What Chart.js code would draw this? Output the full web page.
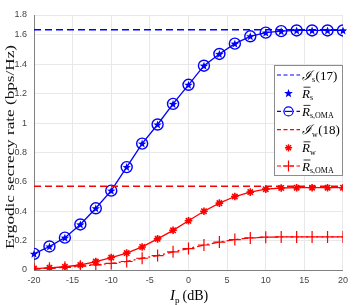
<!DOCTYPE html>
<html>
<head>
<meta charset="utf-8">
<script src="https://cdn.jsdelivr.net/npm/chart.js@4.4.1/dist/chart.umd.min.js"></script>
<style>
  html, body { margin: 0; padding: 0; background: #fff; }
  #wrap { width: 353px; height: 305px; }
</style>
</head>
<body>
<div id="wrap"><canvas id="rateChart" width="353" height="305"></canvas></div>
<script>
const powerDb = [-20, -18, -16, -14, -12, -10, -8, -6, -4, -2, 0, 2, 4, 6, 8, 10, 12, 14, 16, 18, 20];

const rateS = [0.11, 0.16, 0.22, 0.31, 0.42, 0.54, 0.70, 0.86, 0.99, 1.13, 1.26, 1.39, 1.47, 1.54, 1.59, 1.615, 1.625, 1.63, 1.63, 1.63, 1.63];
const rateSOma = [0.11, 0.16, 0.22, 0.31, 0.42, 0.54, 0.70, 0.86, 0.99, 1.13, 1.26, 1.39, 1.47, 1.54, 1.59, 1.615, 1.625, 1.63, 1.63, 1.63, 1.63];
const rateW = [0.01, 0.015, 0.022, 0.034, 0.057, 0.085, 0.115, 0.157, 0.212, 0.27, 0.335, 0.40, 0.455, 0.50, 0.53, 0.55, 0.558, 0.56, 0.56, 0.56, 0.56];
const rateWOma = [0.008, 0.012, 0.018, 0.026, 0.035, 0.045, 0.058, 0.08, 0.098, 0.124, 0.146, 0.17, 0.19, 0.207, 0.218, 0.223, 0.225, 0.225, 0.225, 0.225, 0.225];

const boundS = 1.635; // I_s (17)
const boundW = 0.57;  // I_w (18)

const xTicks = [-20, -15, -10, -5, 0, 5, 10, 15, 20];
const yTicks = [0, 0.2, 0.4, 0.6, 0.8, 1, 1.2, 1.4, 1.6, 1.8];
// in the picture the top "1.8" tick sits closer to 1.6 than the others,
// so the axis top is placed where the picture puts it
const Y_TOP = 1.735;

const BLUE = "#0000ff";
const RED = "#ff0000";
const SERIF = "'Liberation Serif', 'DejaVu Serif', serif";

function pts(ys) {
  return powerDb.map((x, i) => ({ x, y: ys[i] }));
}

function drawStar5(ctx, x, y, r) {
  ctx.beginPath();
  for (let i = 0; i < 10; i++) {
    const rr = i % 2 === 0 ? r : r * 0.42;
    const a = -Math.PI / 2 + (i * Math.PI) / 5;
    const px = x + rr * Math.cos(a);
    const py = y + rr * Math.sin(a);
    if (i === 0) ctx.moveTo(px, py);
    else ctx.lineTo(px, py);
  }
  ctx.closePath();
  ctx.fill();
}

function drawAsterisk(ctx, x, y, r) {
  ctx.beginPath();
  for (let i = 0; i < 4; i++) {
    const a = (i * Math.PI) / 4;
    ctx.moveTo(x - r * Math.cos(a), y - r * Math.sin(a));
    ctx.lineTo(x + r * Math.cos(a), y + r * Math.sin(a));
  }
  ctx.stroke();
}

function drawPlus(ctx, x, y, r) {
  ctx.beginPath();
  ctx.moveTo(x - r, y);
  ctx.lineTo(x + r, y);
  ctx.moveTo(x, y - r);
  ctx.lineTo(x, y + r);
  ctx.stroke();
}

// text with subscript, optional bar over the main letter
function drawMath(ctx, x, y, main, sub, tail, opts = {}) {
  ctx.textBaseline = "alphabetic";
  ctx.textAlign = "left";
  ctx.font = "italic 13px " + SERIF;
  ctx.fillText(main, x, y);
  const w = ctx.measureText(main).width;
  if (opts.bar) {
    ctx.beginPath();
    ctx.lineWidth = 0.8;
    ctx.moveTo(x + 1.5, y - 10.5);
    ctx.lineTo(x + w + 0.5, y - 10.5);
    ctx.stroke();
  }
  let cx = x + w;
  ctx.font = "8px " + SERIF;
  ctx.fillText(sub, cx, y + 2.5);
  cx += ctx.measureText(sub).width;
  if (tail) {
    ctx.font = "13px " + SERIF;
    ctx.fillText(tail, cx + 0.5, y);
  }
}

const legendItems = [
  { color: BLUE, dash: [4, 2.5], marker: null, main: "\u2110", sub: "s", tail: "(17)", bar: false },
  { color: BLUE, dash: null, marker: "star5", main: "R", sub: "s", tail: "", bar: true },
  { color: BLUE, dash: [4, 2.5], marker: "circle", main: "R", sub: "s,OMA", tail: "", bar: true },
  { color: RED, dash: [4, 2.5], marker: null, main: "\u2110", sub: "w", tail: "(18)", bar: false },
  { color: RED, dash: null, marker: "asterisk", main: "R", sub: "w", tail: "", bar: true },
  { color: RED, dash: [4, 2.5], marker: "plus", main: "R", sub: "s,OMA", tail: "", bar: true },
];

// filled five-point stars for R_s, placed at the points the library laid out
const starPlugin = {
  id: "starMarks",
  afterDatasetsDraw(chart) {
    const idx = chart.data.datasets.findIndex((d) => d.label === "Rs");
    const meta = chart.getDatasetMeta(idx);
    const ctx = chart.ctx;
    ctx.save();
    ctx.fillStyle = BLUE;
    meta.data.forEach((p) => drawStar5(ctx, p.x, p.y + 0.4, 4.4));
    ctx.restore();
  },
};

const legendPlugin = {
  id: "boxLegend",
  afterDraw(chart) {
    const ctx = chart.ctx;
    const bx = 274.5, by = 65.5, bw = 68, bh = 110;
    ctx.save();
    ctx.fillStyle = "#fff";
    ctx.fillRect(bx, by, bw, bh);
    ctx.strokeStyle = "#8c8c8c";
    ctx.lineWidth = 1;
    ctx.strokeRect(bx, by, bw, bh);

    legendItems.forEach((it, i) => {
      const cy = by + 9.5 + i * 18.2;
      ctx.strokeStyle = it.color;
      ctx.fillStyle = it.color;
      if (it.dash) {
        ctx.setLineDash(it.dash);
        ctx.lineWidth = 1.2;
        ctx.beginPath();
        ctx.moveTo(277, cy);
        ctx.lineTo(300, cy);
        ctx.stroke();
        ctx.setLineDash([]);
      }
      if (it.marker === "star5") drawStar5(ctx, 288.5, cy + 0.3, 4.6);
      if (it.marker === "circle") {
        ctx.lineWidth = 1.2;
        ctx.beginPath();
        ctx.arc(288.5, cy, 4.5, 0, Math.PI * 2);
        ctx.fillStyle = "#fff";
        ctx.fill();
        ctx.stroke();
        ctx.beginPath();
        ctx.moveTo(285, cy);
        ctx.lineTo(292, cy);
        ctx.stroke();
      }
      if (it.marker === "asterisk") {
        ctx.lineWidth = 1.4;
        drawAsterisk(ctx, 288.5, cy, 3.6);
      }
      if (it.marker === "plus") {
        ctx.lineWidth = 1.2;
        drawPlus(ctx, 288.5, cy, 5.5);
      }
      ctx.fillStyle = "#000";
      ctx.strokeStyle = "#000";
      drawMath(ctx, 302, cy + 4.5, it.main, it.sub, it.tail, { bar: it.bar });
    });

    // x axis title: I_p (dB)
    ctx.fillStyle = "#000";
    ctx.font = "italic 15px " + SERIF;
    const xt = 170, yt = 300;
    ctx.textBaseline = "alphabetic";
    ctx.textAlign = "left";
    ctx.fillText("I", xt, yt);
    let cx = xt + ctx.measureText("I").width;
    ctx.font = "9px " + SERIF;
    ctx.fillText("p", cx, yt + 3);
    cx += ctx.measureText("p").width + 3;
    ctx.font = "14px " + SERIF;
    ctx.fillText("(dB)", cx, yt);

    // y axis title, stretched along its length like the picture
    ctx.translate(11, 147);
    ctx.rotate(-Math.PI / 2);
    ctx.scale(1.32, 1);
    ctx.textAlign = "center";
    ctx.textBaseline = "middle";
    ctx.font = "13px " + SERIF;
    ctx.fillStyle = "#111";
    ctx.fillText("Ergodic secrecy rate (bps/Hz)", 0, 0);
    ctx.restore();
  },
};

const ctx = document.getElementById("rateChart");

new Chart(ctx, {
  type: "line",
  data: {
    datasets: [
      {
        label: "Is",
        data: [{ x: -20, y: boundS }, { x: 20, y: boundS }],
        borderColor: BLUE,
        borderWidth: 1.6,
        borderDash: [7, 4],
        pointRadius: 0,
      },
      {
        label: "Iw",
        data: [{ x: -20, y: boundW }, { x: 20, y: boundW }],
        borderColor: RED,
        borderWidth: 1.6,
        borderDash: [7, 4],
        pointRadius: 0,
      },
      {
        label: "Rs,OMA",
        data: pts(rateSOma),
        borderColor: BLUE,
        borderWidth: 1.3,
        pointStyle: "circle",
        pointRadius: 5.5,
        pointBorderWidth: 1.4,
        pointBorderColor: BLUE,
        pointBackgroundColor: "rgba(0,0,0,0)",
      },
      {
        label: "Rs",
        data: pts(rateS),
        showLine: false,
        pointRadius: 0,
        borderColor: BLUE,
      },
      {
        label: "Rw",
        data: pts(rateW),
        borderColor: RED,
        borderWidth: 1.3,
        pointStyle: "star",
        pointRadius: 3.8,
        pointBorderWidth: 1.6,
        pointBorderColor: RED,
      },
      {
        label: "Rw,OMA",
        data: pts(rateWOma),
        borderColor: RED,
        borderWidth: 1.3,
        borderDash: [7, 3, 2, 3],
        pointStyle: "cross",
        pointRadius: 6,
        pointBorderWidth: 1.2,
        pointBorderColor: RED,
      },
    ],
  },
  options: {
    responsive: false,
    animation: false,
    layout: { padding: { top: 15, right: 6, left: 0, bottom: 0 } },
    plugins: { legend: { display: false }, tooltip: { enabled: false } },
    scales: {
      x: {
        type: "linear",
        min: -20,
        max: 20,
        afterBuildTicks: (scale) => {
          scale.ticks = xTicks.map((v) => ({ value: v }));
        },
        afterFit: (scale) => {
          scale.height = 35;
        },
        grid: { color: "#e8e8e8", drawTicks: false },
        border: { color: "#808080", width: 1 },
        ticks: {
          padding: 5,
          color: "#444",
          font: { family: "'Liberation Sans', Arial, sans-serif", size: 9 },
        },
      },
      y: {
        type: "linear",
        min: 0,
        max: Y_TOP,
        afterBuildTicks: (scale) => {
          scale.ticks = yTicks.map((v) => ({ value: v === 1.8 ? Y_TOP : v }));
        },
        afterFit: (scale) => {
          scale.width = 34;
        },
        grid: { color: "#e8e8e8", drawTicks: false },
        border: { color: "#808080", width: 1 },
        ticks: {
          padding: 7,
          color: "#444",
          font: { family: "'Liberation Sans', Arial, sans-serif", size: 9 },
          callback: (v) => (v === Y_TOP ? "1.8" : String(+Number(v).toFixed(1))),
        },
      },
    },
  },
  plugins: [starPlugin, legendPlugin],
});
</script>
</body>
</html>
